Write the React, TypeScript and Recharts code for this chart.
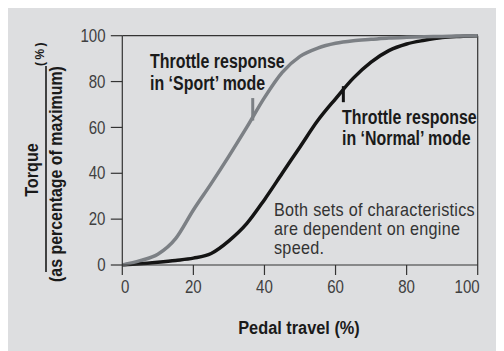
import React from 'react';
import { LineChart, Line, XAxis, YAxis, ReferenceLine } from 'recharts';

const pedalTravel = [0, 5, 10, 15, 20, 25, 30, 35, 40, 45, 50, 55, 60, 65, 70, 75, 80, 85, 90, 95, 100];
const sportTorque = [0, 1.9, 4.7, 11.5, 24, 35.5, 47.5, 60, 73, 84, 91, 94.6, 96.7, 97.8, 98.4, 99, 99.3, 99.5, 99.7, 99.9, 100];
const normalTorque = [0, 0.5, 1.2, 2, 3, 5, 10.5, 18, 28.5, 40, 51.5, 63, 72.5, 81.5, 88.5, 93.5, 96.4, 98, 99.2, 99.7, 100];
const xTicks = [0, 20, 40, 60, 80, 100];
const yTicks = [0, 20, 40, 60, 80, 100];

const sportLeader = [{ x: 36.7, y: 63 }, { x: 36.7, y: 72.8 }];
const normalLeader = [{ x: 62.2, y: 71 }, { x: 62.2, y: 78 }];

const sportLabel = ['Throttle response', 'in \u2018Sport\u2019 mode'];
const normalLabel = ['Throttle response', 'in \u2018Normal\u2019 mode'];
const noteLines = ['Both sets of characteristics', 'are dependent on engine', 'speed.'];
const xTitle = 'Pedal travel (%)';
const yTitleTop = 'Torque';
const yTitleBottom = '(as percentage of maximum)';
const yTitleUnit = '(%)';

const data = pedalTravel.map((p, i) => ({ pedal: p, sport: sportTorque[i], normal: normalTorque[i] }));

const FONT = '"Liberation Sans", Arial, sans-serif';
const AXIS = '#333';
const TICK_TEXT = '#404040';
const SPORT = '#7c8085';
const NORMAL = '#141414';

type TProps = {
  x: number; y: number; sx: number; size: number; bold?: boolean; fill: string;
  anchor?: 'start' | 'middle' | 'end'; rotate?: boolean; dy?: string; ls?: number; children: React.ReactNode;
};

const T = ({ x, y, sx, size, bold, fill, anchor = 'start', rotate, dy, ls, children }: TProps) => (
  <text
    transform={`translate(${x},${y})${rotate ? ' rotate(-90)' : ''} scale(${sx},1)`}
    textAnchor={anchor}
    fontFamily={FONT}
    fontSize={size}
    fontWeight={bold ? 'bold' : 'normal'}
    fill={fill}
    dy={dy}
    letterSpacing={ls}
  >
    {children}
  </text>
);

const XTick = (props: any) => {
  const { x, y, payload } = props;
  let anchor: 'middle' | 'end' = 'middle';
  let dx = 0;
  if (payload.value === 0) dx = 3;
  if (payload.value === 100) { anchor = 'end'; dx = 2; }
  return (
    <T x={x + dx} y={y} sx={0.86} size={17.5} fill={TICK_TEXT} anchor={anchor} dy="0.71em">
      {payload.value}
    </T>
  );
};

const YTick = (props: any) => {
  const { x, y, payload } = props;
  return (
    <T x={x} y={y} sx={0.86} size={17.5} fill={TICK_TEXT} anchor="end" dy="0.355em">
      {payload.value}
    </T>
  );
};

export default function App() {
  return (
    <div style={{ position: 'relative', marginLeft: -5, marginTop: -1, width: 501, height: 344, background: '#dddee0' }}>
      <LineChart width={501} height={344} data={data} margin={{ top: 28.7, right: 26.3, bottom: 0, left: 0 }}>
        <XAxis
          type="number"
          dataKey="pedal"
          domain={[0, 100]}
          ticks={xTicks}
          tickSize={10}
          tickMargin={5.5}
          height={86}
          stroke={AXIS}
          strokeWidth={1.2}
          tick={<XTick />}
          interval={0}
        />
        <YAxis
          type="number"
          domain={[0, 100]}
          ticks={yTicks}
          tickSize={11.5}
          tickMargin={5.3}
          width={119.3}
          stroke={AXIS}
          strokeWidth={1.2}
          tick={<YTick />}
          interval={0}
        />
        <ReferenceLine y={100} stroke={AXIS} strokeWidth={1.2} />
        <ReferenceLine x={100} stroke={AXIS} strokeWidth={1.2} />
        <ReferenceLine segment={sportLeader} stroke={SPORT} strokeWidth={3} />
        <ReferenceLine segment={normalLeader} stroke={NORMAL} strokeWidth={3} />
        <Line type="monotone" dataKey="normal" stroke={NORMAL} strokeWidth={3.5} dot={false} isAnimationActive={false} />
        <Line type="monotone" dataKey="sport" stroke={SPORT} strokeWidth={3.5} dot={false} isAnimationActive={false} />
      </LineChart>
      <svg width={504} height={351} style={{ position: 'absolute', left: -3, top: -7, pointerEvents: 'none' }}>
        <T x={150} y={67.7} sx={0.76} size={21} bold fill="#1a1a1a">{sportLabel[0]}</T>
        <T x={150} y={90.3} sx={0.76} size={21} bold fill="#1a1a1a">{sportLabel[1]}</T>
        <T x={342} y={123.5} sx={0.76} size={21} bold fill="#1a1a1a">{normalLabel[0]}</T>
        <T x={342} y={145} sx={0.76} size={21} bold fill="#1a1a1a">{normalLabel[1]}</T>
        <T x={299} y={334} sx={0.86} size={19} bold fill="#1a1a1a" anchor="middle">{xTitle}</T>
        {noteLines.map((t, i) => (
          <T key={i} x={274} y={216 + i * 19.2} sx={0.89} size={18.2} fill="#333" ls={0.3}>{t}</T>
        ))}
        <T x={37.5} y={170} sx={0.9} size={18} bold fill="#1a1a1a" anchor="middle" rotate>{yTitleTop}</T>
        <T x={61.5} y={174} sx={0.885} size={18} bold fill="#1a1a1a" anchor="middle" rotate>{yTitleBottom}</T>
        <T x={44} y={53} sx={1} size={12} bold fill="#1a1a1a" anchor="middle" rotate ls={2.5}>{yTitleUnit}</T>
        <line x1={46} y1={66} x2={46} y2={272} stroke="#1a1a1a" strokeWidth={1.6} />
      </svg>
    </div>
  );
}
